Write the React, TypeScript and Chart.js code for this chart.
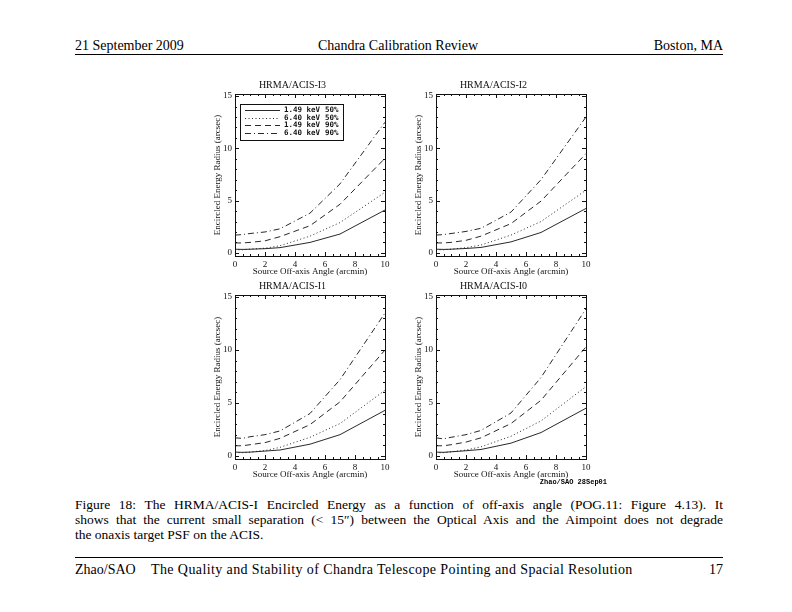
import React, { useEffect, useRef } from "react";
import { Chart, registerables } from "chart.js";

Chart.register(...registerables);

// ---------------- data ----------------
const ANGLES = [0, 0.5, 1, 2, 3, 5, 7, 10];
const X_TICKS = [0, 2, 4, 6, 8, 10];
const Y_TICKS = [0, 5, 10, 15];
const LEGEND_ENERGY = ["1.49 keV", "6.40 keV", "1.49 keV", "6.40 keV"];
const LEGEND_FRACTION = ["50%", "50%", "90%", "90%"];

const I3_E149_50 = [0.35, 0.33, 0.35, 0.4, 0.5, 1.0, 1.8, 4.1];
const I3_E640_50 = [0.3, 0.3, 0.35, 0.45, 0.68, 1.6, 2.9, 5.8];
const I3_E149_90 = [0.95, 0.95, 1.0, 1.15, 1.55, 2.6, 4.65, 9.05];
const I3_E640_90 = [1.7, 1.75, 1.85, 2.0, 2.3, 3.8, 6.6, 12.5];

const I2_E149_50 = [0.35, 0.33, 0.35, 0.42, 0.52, 1.05, 1.95, 4.25];
const I2_E640_50 = [0.3, 0.3, 0.35, 0.5, 0.75, 1.7, 3.0, 6.0];
const I2_E149_90 = [0.95, 0.95, 1.0, 1.2, 1.6, 2.8, 4.95, 9.5];
const I2_E640_90 = [1.7, 1.75, 1.85, 2.05, 2.35, 3.9, 7.0, 13.0];

const I1_E149_50 = [0.35, 0.33, 0.35, 0.45, 0.55, 1.1, 2.0, 4.3];
const I1_E640_50 = [0.3, 0.3, 0.35, 0.5, 0.8, 1.75, 3.05, 6.2];
const I1_E149_90 = [0.95, 0.95, 1.05, 1.25, 1.65, 2.95, 5.1, 10.0];
const I1_E640_90 = [1.7, 1.65, 1.8, 2.0, 2.35, 4.0, 7.2, 13.5];

const I0_E149_50 = [0.35, 0.33, 0.38, 0.48, 0.6, 1.2, 2.2, 4.5];
const I0_E640_50 = [0.3, 0.3, 0.38, 0.55, 0.85, 1.85, 3.3, 6.55];
const I0_E149_90 = [0.95, 0.95, 1.05, 1.3, 1.7, 3.05, 5.25, 10.3];
const I0_E640_90 = [1.7, 1.6, 1.75, 2.0, 2.4, 4.05, 7.4, 13.9];

const DASHES: number[][] = [[], [1, 2.5], [6, 4], [6, 3, 1, 3]];

const SERIF = "'Liberation Serif', 'DejaVu Serif', serif";
const INK = "#111";

// ---------------- plugins ----------------
const idlBoxPlugin = {
  id: "idlBox",
  afterDatasetsDraw(chart: any) {
    const { ctx, chartArea, scales } = chart;
    const { left, right, top, bottom } = chartArea;
    const x = scales.x;
    const y = scales.y;
    const r = (v: number) => Math.round(v) + 0.5;
    ctx.save();
    ctx.strokeStyle = INK;
    ctx.lineWidth = 1;
    ctx.setLineDash([]);
    ctx.strokeRect(r(left), r(top), Math.round(right) - Math.round(left), Math.round(bottom) - Math.round(top));
    ctx.beginPath();
    for (let v = 0; v <= 10.001; v += 0.5) {
      const major = Math.abs(v / 2 - Math.round(v / 2)) < 1e-6;
      const len = major ? 4 : 2;
      const px = r(x.getPixelForValue(v));
      ctx.moveTo(px, bottom);
      ctx.lineTo(px, bottom - len);
      ctx.moveTo(px, top);
      ctx.lineTo(px, top + len);
    }
    for (let v = 0; v <= 15.001; v += 1) {
      const major = v % 5 === 0;
      const len = major ? 4 : 2;
      const py = r(y.getPixelForValue(v));
      ctx.moveTo(left, py);
      ctx.lineTo(left + len, py);
      ctx.moveTo(right, py);
      ctx.lineTo(right - len, py);
    }
    ctx.stroke();
    ctx.restore();
  },
};

const idlLegendPlugin = {
  id: "idlLegend",
  afterDraw(chart: any, _args: any, opts: any) {
    if (!opts || !opts.show) return;
    const { ctx, chartArea } = chart;
    const { left, top } = chartArea;
    ctx.save();
    ctx.strokeStyle = INK;
    ctx.lineWidth = 1;
    ctx.setLineDash([]);
    ctx.strokeRect(Math.round(left + 5) + 0.5, Math.round(top + 10) + 0.5, 103, 36);
    ctx.font = "bold 7.5px 'DejaVu Sans Mono', 'Liberation Mono', monospace";
    ctx.fillStyle = INK;
    ctx.textBaseline = "middle";
    chart.data.datasets.forEach((ds: any, i: number) => {
      const yy = Math.round(top + 16 + i * 7.5) + 0.5;
      ctx.beginPath();
      ctx.setLineDash(ds.borderDash || []);
      ctx.lineWidth = 0.9;
      ctx.moveTo(left + 10, yy);
      ctx.lineTo(left + 45, yy);
      ctx.stroke();
      ctx.setLineDash([]);
      ctx.fillText(LEGEND_ENERGY[i], left + 49, yy);
      ctx.fillText(LEGEND_FRACTION[i], left + 90, yy);
    });
    ctx.restore();
  },
};

// ---------------- panel ----------------
type PanelProps = {
  title: string;
  series: number[][];
  left: number;
  top: number;
  plotHeight: number;
  legend?: boolean;
};

const CANVAS_W = 195;
const TITLE_H = 19;
const XAXIS_H = 24;
const YAXIS_W = 35;

function Panel({ title, series, left, top, plotHeight, legend }: PanelProps) {
  const ref = useRef<HTMLCanvasElement>(null);
  const h = TITLE_H + plotHeight + XAXIS_H;
  useEffect(() => {
    const datasets = series.map((ys, i) => ({
      label: LEGEND_ENERGY[i] + " " + LEGEND_FRACTION[i],
      data: ANGLES.map((a, k) => ({ x: a, y: ys[k] })),
      borderColor: INK,
      borderWidth: 0.9,
      borderDash: DASHES[i],
      pointRadius: 0,
      fill: false,
      tension: 0,
    }));
    const chart = new Chart(ref.current as HTMLCanvasElement, {
      type: "line",
      data: { datasets },
      options: {
        animation: false,
        responsive: false,
        events: [],
        layout: { padding: { left: 0, right: CANVAS_W - YAXIS_W - 150, top: 0, bottom: 0 } },
        plugins: {
          legend: { display: false },
          tooltip: { enabled: false },
          title: {
            display: true,
            text: title,
            color: INK,
            font: { family: SERIF, size: 10, weight: "normal" },
            padding: { top: 4, bottom: 3 },
          },
          idlLegend: { show: !!legend },
        } as any,
        scales: {
          x: {
            type: "linear",
            min: 0,
            max: 10,
            afterBuildTicks: (axis: any) => {
              axis.ticks = X_TICKS.map((v) => ({ value: v }));
            },
            afterFit: (s: any) => {
              s.height = XAXIS_H;
              s.paddingLeft = 0;
              s.paddingRight = 0;
            },
            grid: { display: false, drawTicks: false },
            border: { display: false },
            ticks: { color: INK, font: { family: SERIF, size: 9 }, padding: 3, maxRotation: 0 },
            title: {
              display: true,
              text: "Source Off-axis Angle (arcmin)",
              color: INK,
              font: { family: SERIF, size: 9 },
              padding: { top: 0, bottom: 3 },
            },
          },
          y: {
            type: "linear",
            min: -0.3,
            max: 15.2,
            afterBuildTicks: (axis: any) => {
              axis.ticks = Y_TICKS.map((v) => ({ value: v }));
            },
            afterFit: (s: any) => {
              s.width = YAXIS_W;
              s.paddingTop = 0;
              s.paddingBottom = 0;
            },
            grid: { display: false, drawTicks: false },
            border: { display: false },
            ticks: { color: INK, font: { family: SERIF, size: 9 }, padding: 3 },
            title: {
              display: true,
              text: "Encircled Energy Radius (arcsec)",
              color: INK,
              font: { family: SERIF, size: 9 },
              padding: { top: 12, bottom: 0 },
            },
          },
        },
      } as any,
      plugins: [idlBoxPlugin, idlLegendPlugin],
    });
    return () => chart.destroy();
  }, []);
  return (
    <canvas
      ref={ref}
      width={CANVAS_W}
      height={h}
      style={{ position: "absolute", left, top, width: CANVAS_W, height: h }}
    />
  );
}

// ---------------- page ----------------
const pageText: React.CSSProperties = {
  position: "absolute",
  fontFamily: SERIF,
  fontSize: 14,
  lineHeight: "16px",
  color: "#000",
  whiteSpace: "nowrap",
};

const justLine: React.CSSProperties = {
  ...pageText,
  left: 75,
  width: 648,
  fontSize: 13.5,
  textAlign: "justify",
  textAlignLast: "justify",
};

export default function App() {
  return (
    <div
      style={{
        position: "absolute",
        left: 0,
        top: 0,
        width: 792,
        height: 612,
        background: "#fff",
        overflow: "hidden",
      }}
    >
      {/* header */}
      <div style={{ ...pageText, left: 75, top: 38 }}>21 September 2009</div>
      <div style={{ ...pageText, left: 248, width: 300, top: 38, textAlign: "center" }}>
        Chandra Calibration Review
      </div>
      <div style={{ ...pageText, left: 523, width: 200, top: 38, textAlign: "right" }}>Boston, MA</div>
      <div style={{ position: "absolute", left: 75, top: 54, width: 648, height: 1, background: "#000" }} />

      {/* charts */}
      <Panel title="HRMA/ACIS-I3" series={[I3_E149_50, I3_E640_50, I3_E149_90, I3_E640_90]} left={200} top={75} plotHeight={162} legend />
      <Panel title="HRMA/ACIS-I2" series={[I2_E149_50, I2_E640_50, I2_E149_90, I2_E640_90]} left={401} top={75} plotHeight={162} />
      <Panel title="HRMA/ACIS-I1" series={[I1_E149_50, I1_E640_50, I1_E149_90, I1_E640_90]} left={200} top={276} plotHeight={164} />
      <Panel title="HRMA/ACIS-I0" series={[I0_E149_50, I0_E640_50, I0_E149_90, I0_E640_90]} left={401} top={276} plotHeight={164} />

      <div
        style={{
          position: "absolute",
          left: 507,
          width: 100,
          top: 478,
          textAlign: "right",
          fontFamily: "'Liberation Mono', 'DejaVu Sans Mono', monospace",
          fontWeight: "bold",
          fontSize: 7,
          lineHeight: "9px",
          whiteSpace: "nowrap",
        }}
      >
        Zhao/SAO 28Sep01
      </div>

      {/* caption */}
      <div style={{ ...justLine, top: 497 }}>
        Figure 18: The HRMA/ACIS-I Encircled Energy as a function of off-axis angle (POG.11: Figure 4.13). It
      </div>
      <div style={{ ...justLine, top: 512 }}>
        shows that the current small separation (&lt; 15″) between the Optical Axis and the Aimpoint does not degrade
      </div>
      <div style={{ ...pageText, fontSize: 13.5, left: 75, top: 527 }}>the onaxis target PSF on the ACIS.</div>

      {/* footer */}
      <div style={{ position: "absolute", left: 75, top: 557, width: 648, height: 1, background: "#000" }} />
      <div style={{ ...pageText, left: 75, top: 562 }}>Zhao/SAO</div>
      <div style={{ ...pageText, left: 151, top: 562, letterSpacing: 0.4 }}>
        The Quality and Stability of Chandra Telescope Pointing and Spacial Resolution
      </div>
      <div style={{ ...pageText, left: 623, width: 100, top: 562, textAlign: "right" }}>17</div>
    </div>
  );
}
